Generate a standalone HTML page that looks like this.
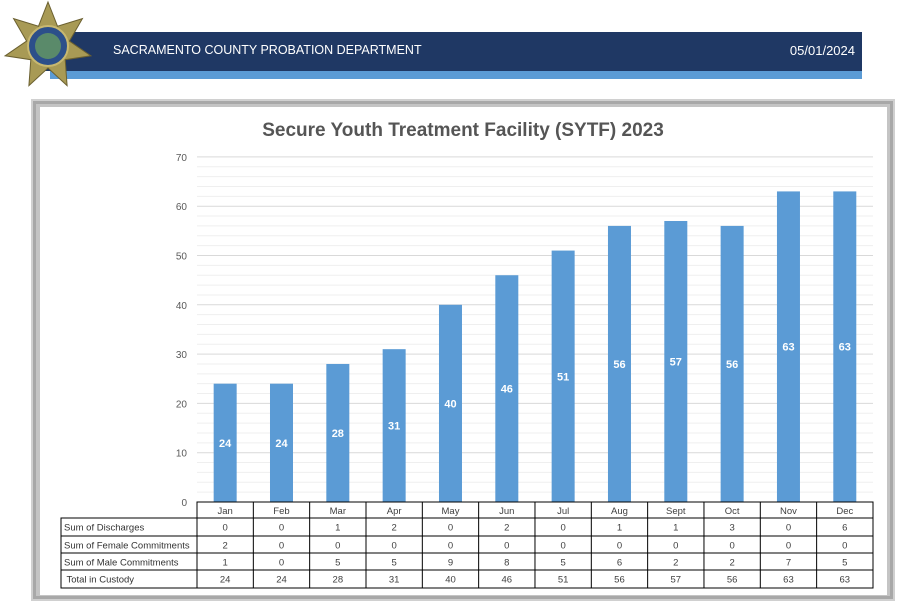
<!DOCTYPE html>
<html><head><meta charset="utf-8"><style>
body{margin:0;width:913px;height:611px;background:#fff;overflow:hidden;font-family:"Liberation Sans",sans-serif}
</style></head><body>
<svg id="s" width="913" height="611" xmlns="http://www.w3.org/2000/svg" style="position:absolute;left:0;top:0">
<rect x="50" y="68" width="812" height="11" fill="#5b9bd5"/>
<rect x="45" y="32" width="817" height="39" fill="#1f3864"/>
<text x="113" y="54" font-size="12.5" fill="#fff">SACRAMENTO COUNTY PROBATION DEPARTMENT</text>
<text x="855" y="55" font-size="13" fill="#fff" text-anchor="end">05/01/2024</text>
<rect x="31" y="99" width="864" height="502" fill="#d0d0d0"/>
<rect x="33" y="101" width="860" height="498" fill="#a8a8a8"/>
<rect x="36" y="104" width="854" height="492" fill="#c4c4c4"/>
<rect x="40" y="107" width="847" height="488" fill="#fff"/>
<text x="463" y="136" font-size="19" font-weight="bold" fill="#555" text-anchor="middle">Secure Youth Treatment Facility (SYTF) 2023</text>
<g id="g"></g>
</svg>
<script>
const g=document.getElementById('g');let h='';
let pts=[];for(let i=0;i<14;i++){const a=-Math.PI/2+i*Math.PI/7;const r=i%2?22:44;pts.push((48+r*Math.cos(a)).toFixed(1)+','+(46+r*Math.sin(a)).toFixed(1));}
h+=`<polygon points="${pts.join(' ')}" fill="#a89a55" stroke="#6b6030" stroke-width="1"/>`;
h+=`<circle cx="48" cy="46" r="20" fill="#2c4f8a" stroke="#c8b870" stroke-width="2"/><circle cx="48" cy="46" r="13" fill="#5a8a6a"/>`;
const y0=502,k=4.93,x0=197,cw=56.33;
for(let v=2;v<70;v+=2){if(v%10==0)continue;const y=y0-v*k;h+=`<line x1="197" x2="873" y1="${y}" y2="${y}" stroke="#efefef"/>`;}
for(let v=0;v<=70;v+=10){const y=y0-v*k;h+=`<line x1="197" x2="873" y1="${y}" y2="${y}" stroke="#d9d9d9"/><text x="187" y="${y+4}" font-size="10" fill="#595959" text-anchor="end">${v}</text>`;}
const m=['Jan','Feb','Mar','Apr','May','Jun','Jul','Aug','Sept','Oct','Nov','Dec'];
const tot=[24,24,28,31,40,46,51,56,57,56,63,63];
const d=[[0,0,1,2,0,2,0,1,1,3,0,6],[2,0,0,0,0,0,0,0,0,0,0,0],[1,0,5,5,9,8,5,6,2,2,7,5],tot];
const lab=['Sum of Discharges','Sum of Female Commitments','Sum of Male Commitments',' Total in Custody'];
tot.forEach((v,i)=>{const cx=x0+cw*(i+.5),t=y0-v*k;h+=`<rect x="${cx-11.5}" y="${t}" width="23" height="${v*k}" fill="#5b9bd5"/><text x="${cx}" y="${(t+y0)/2+4}" font-size="11" font-weight="bold" fill="#fff" text-anchor="middle">${v}</text>`;});
const rows=[502,518,536,553,570,588];
h+=`<g stroke="#000" stroke-width="1" fill="none"><rect x="197" y="502" width="676" height="86"/><rect x="61" y="518" width="136" height="70"/>`;
for(let i=1;i<12;i++)h+=`<line x1="${x0+cw*i}" x2="${x0+cw*i}" y1="502" y2="588"/>`;
for(let r=1;r<5;r++)h+=`<line x1="61" x2="873" y1="${rows[r]}" y2="${rows[r]}"/>`;
h+='</g>';
m.forEach((s,i)=>h+=`<text x="${x0+cw*(i+.5)}" y="514" font-size="9.5" fill="#404040" text-anchor="middle">${s}</text>`);
for(let r=0;r<4;r++){const yy=rows[r+1]+12.5;h+=`<text x="64" y="${yy}" font-size="9.5" fill="#333" xml:space="preserve">${lab[r]}</text>`;
d[r].forEach((v,i)=>h+=`<text x="${x0+cw*(i+.5)}" y="${yy}" font-size="9.5" fill="#404040" text-anchor="middle">${v}</text>`);}
g.innerHTML=h;
</script>
</body></html>
